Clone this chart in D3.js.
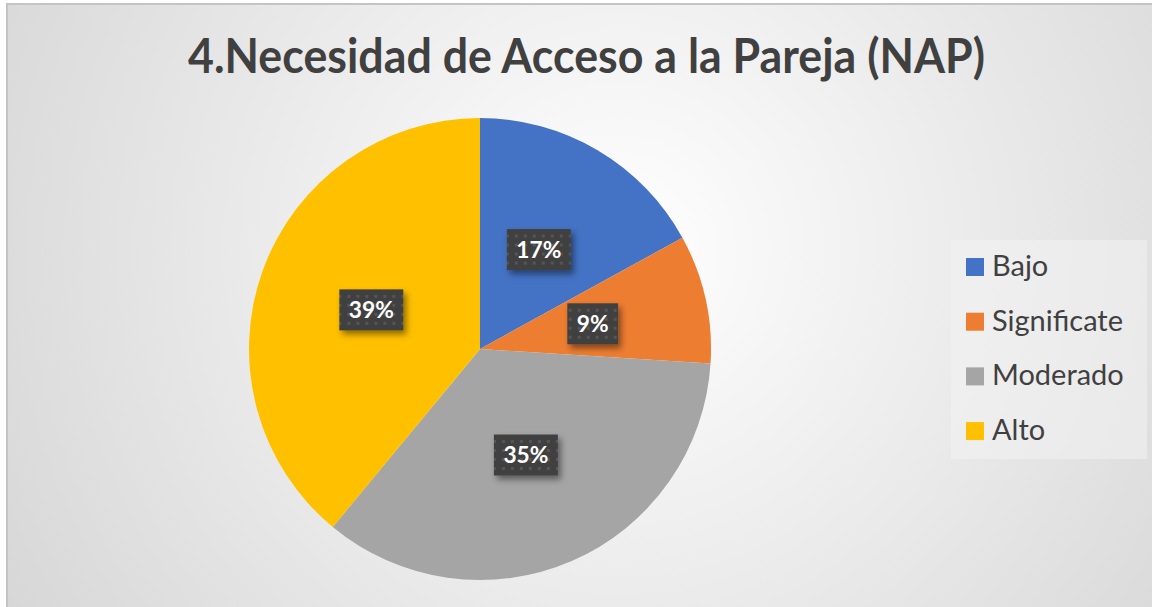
<!DOCTYPE html>
<html>
<head>
<meta charset="utf-8">
<script src="https://cdn.jsdelivr.net/npm/d3@7"></script>
<style>
  html, body { margin: 0; padding: 0; background: #fff; }
  svg { display: block; }
</style>
</head>
<body>
<div id="chart"></div>
<script>
// data
const title = "4.Necesidad de Acceso a la Pareja (NAP)"
const categories = ["Bajo", "Significate", "Moderado", "Alto"]
const values = [17, 9, 35, 39]
const colors = ["#4472C4", "#ED7D31", "#A5A5A5", "#FFC000"]

var width = 1152, height = 607
var cx = 480, cy = 349, radius = 231

var svg = d3.select("#chart").append("svg")
    .attr("width", width)
    .attr("height", height)

var defs = svg.append("defs")

// background gradient (light centre, grey corners)
var grad = defs.append("radialGradient")
    .attr("id", "bg")
    .attr("gradientUnits", "userSpaceOnUse")
    .attr("cx", 620).attr("cy", 250).attr("r", 760)
grad.append("stop").attr("offset", "0").attr("stop-color", "#ffffff")
grad.append("stop").attr("offset", "1").attr("stop-color", "#d4d4d4")

// dotted dark pattern for the data label boxes
var pat = defs.append("pattern")
    .attr("id", "dots")
    .attr("patternUnits", "userSpaceOnUse")
    .attr("width", 9).attr("height", 9)
pat.append("rect").attr("width", 9).attr("height", 9).attr("fill", "#404040")
pat.append("rect").attr("x", 3).attr("y", 3).attr("width", 3).attr("height", 3).attr("fill", "#555555")

var shadow = defs.append("filter")
    .attr("id", "shadow")
    .attr("x", "-30%").attr("y", "-30%").attr("width", "170%").attr("height", "170%")
shadow.append("feDropShadow")
    .attr("dx", 3).attr("dy", 4).attr("stdDeviation", 3)
    .attr("flood-color", "#000").attr("flood-opacity", 0.45)

// chart area
svg.append("rect")
    .attr("x", 7).attr("y", 4)
    .attr("width", width).attr("height", height)
    .attr("fill", "url(#bg)")
    .attr("stroke", "#c4c4c4")
    .attr("stroke-width", 2)

// Title - fit to the width / cap height seen in the picture
var t = svg.append("text")
    .text(title)
    .attr("font-family", "Lato, 'Open Sans', sans-serif")
    .attr("font-weight", "bold")
    .attr("font-size", 40)
    .attr("fill", "#404040")
var tw = t.node().getComputedTextLength()
var fs = 40 * 797 / tw
var sy = 34 / (0.72 * fs)
t.attr("font-size", fs)
  .attr("transform", "translate(188,73) scale(1," + sy + ")")

// Pie
var pie = d3.pie().value(d => d).sort(null)
var arc = d3.arc().innerRadius(0).outerRadius(radius)
var arcs = pie(values)

var g = svg.append("g").attr("transform", "translate(" + cx + "," + cy + ")")

g.selectAll("path")
    .data(arcs)
  .enter().append("path")
    .attr("d", arc)
    .attr("fill", (d, i) => colors[i])

// data labels
var lab = g.selectAll(".lab")
    .data(arcs)
  .enter().append("g")
    .attr("class", "lab")
    .attr("transform", d => "translate(" + arc.centroid(d) + ")")

lab.append("rect")
    .attr("fill", "url(#dots)")
    .attr("filter", "url(#shadow)")

var labText = lab.append("text")
    .text(d => d.data + "%")
    .attr("font-family", "Lato, 'Open Sans', sans-serif")
    .attr("font-weight", "bold")
    .attr("font-size", 22)
    .attr("fill", "#fff")
    .attr("text-anchor", "middle")
    .attr("dy", "0.36em")

// "17%" is about 45px wide in the picture
var lw = labText.filter(d => d.data == 17).node().getComputedTextLength()
labText.attr("font-size", 22 * 45 / lw)

labText.each(function() {
  var w = this.getComputedTextLength()
  d3.select(this.parentNode).select("rect")
    .attr("x", -w / 2 - 9.5).attr("y", -20.5)
    .attr("width", w + 19).attr("height", 41)
})

// Legend
var legend = svg.append("g").attr("transform", "translate(951,240)")
legend.append("rect")
    .attr("width", 196).attr("height", 219)
    .attr("fill", "#f2f2f2").attr("fill-opacity", 0.55)

var rows = legend.selectAll(".row")
    .data(categories)
  .enter().append("g")
    .attr("class", "row")
    .attr("transform", (d, i) => "translate(15," + (36 + i * 54.7) + ")")

rows.append("rect")
    .attr("y", -18).attr("width", 18).attr("height", 18)
    .attr("fill", (d, i) => colors[i])

var legText = rows.append("text")
    .text(d => d)
    .attr("x", 26)
    .attr("font-family", "Lato, 'Open Sans', sans-serif")
    .attr("font-size", 24)
    .attr("fill", "#404040")

// size legend font to match "Significate" width
var sw = legText.filter(d => d == "Significate").node().getComputedTextLength()
legText.attr("font-size", 24 * 131 / sw)
</script>
</body>
</html>
